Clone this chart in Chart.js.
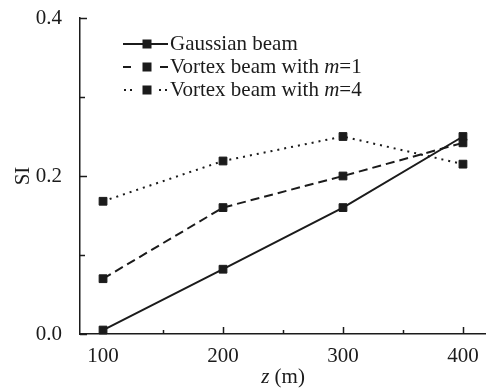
<!DOCTYPE html>
<html><head><meta charset="utf-8">
<script src="https://cdn.jsdelivr.net/npm/chart.js@4"></script>
<style>html,body{margin:0;padding:0;background:#fff}#wrap{width:486px;height:389px;position:relative}</style>
</head><body><div id="wrap"><canvas id="c" width="486" height="389"></canvas></div>
<script>
const zValues = [100, 200, 300, 400];
const gaussian = [0.005, 0.082, 0.160, 0.250];
const vortexM1 = [0.070, 0.160, 0.200, 0.242];
const vortexM4 = [0.168, 0.219, 0.250, 0.215];
const seriesLabels = ['Gaussian beam', 'Vortex beam with m=1', 'Vortex beam with m=4'];
const xTicks = [100, 150, 200, 250, 300, 350, 400];
const xTickLabels = ['100', '', '200', '', '300', '', '400'];
const yTicks = [0, 0.1, 0.2, 0.3, 0.4];
const yTickLabels = ['0.0', '', '0.2', '', '0.4'];
const xTitle = ['z', ' (m)'];
const yTitle = 'SI';

const INK = '#1b1b1b';
const FONT = '"Liberation Serif", "Times New Roman", serif';
const dashes = [[], [9, 5], [2, 5]];

function pts(arr) { return zValues.map((z, i) => ({x: z, y: arr[i]})); }
const seriesData = [gaussian, vortexM1, vortexM4];

const datasets = seriesData.map((arr, i) => ({
  label: seriesLabels[i],
  data: pts(arr),
  borderColor: INK,
  backgroundColor: INK,
  borderWidth: 2,
  borderDash: dashes[i],
  borderCapStyle: 'butt',
  pointStyle: 'rect',
  pointRadius: 5.5,
  pointBorderWidth: 1,
  pointBackgroundColor: INK,
  pointBorderColor: INK,
  tension: 0,
  fill: false,
  clip: false
}));

const decor = {
  id: 'decor',
  afterDraw(chart) {
    const ctx = chart.ctx;
    const xs = chart.scales.x, ys = chart.scales.y;
    const area = chart.chartArea;
    ctx.save();
    ctx.strokeStyle = INK;
    ctx.lineWidth = 1.5;
    // inward ticks
    xTicks.forEach((v, i) => {
      const px = Math.round(xs.getPixelForValue(v)) + 0.5;
      const len = xTickLabels[i] ? 7 : 4;
      ctx.beginPath(); ctx.moveTo(px, area.bottom); ctx.lineTo(px, area.bottom - len); ctx.stroke();
    });
    yTicks.forEach((v, i) => {
      const py = Math.round(ys.getPixelForValue(v)) + 0.5;
      const len = yTickLabels[i] ? 7 : 5;
      ctx.beginPath(); ctx.moveTo(area.left, py); ctx.lineTo(area.left + len, py); ctx.stroke();
    });
    // axis titles
    ctx.fillStyle = INK;
    ctx.textBaseline = 'middle';
    ctx.font = 'italic 21px ' + FONT;
    const w0 = ctx.measureText(xTitle[0]).width;
    ctx.font = '21px ' + FONT;
    const w1 = ctx.measureText(xTitle[1]).width;
    const cx = (area.left + area.right) / 2;
    let sx = cx - (w0 + w1) / 2;
    ctx.textAlign = 'left';
    ctx.font = 'italic 21px ' + FONT;
    ctx.fillText(xTitle[0], sx, 377);
    ctx.font = '21px ' + FONT;
    ctx.fillText(xTitle[1], sx + w0, 377);
    ctx.save();
    ctx.translate(23, 176);
    ctx.rotate(-Math.PI / 2);
    ctx.textAlign = 'center';
    ctx.fillText(yTitle, 0, 0);
    ctx.restore();
    // legend
    const rows = [44, 67, 90];
    chart.data.datasets.forEach((ds, i) => {
      const y = rows[i];
      ctx.lineWidth = 2;
      ctx.setLineDash([]);
      ctx.beginPath();
      if (i === 0) {
        ctx.moveTo(123, y); ctx.lineTo(168, y);
      } else if (i === 1) {
        ctx.moveTo(123, y); ctx.lineTo(131, y);
        ctx.moveTo(160, y); ctx.lineTo(168, y);
      }
      ctx.stroke();
      if (i === 2) {
        [125, 131, 160, 166].forEach(dx => ctx.fillRect(dx - 1, y - 1, 2, 2));
      }
      ctx.fillRect(147 - 4.5, y - 4.5, 9, 9);
      // text with italic m
      const label = ds.label;
      const k = label.indexOf('m=');
      let tx = 170;
      ctx.textAlign = 'left';
      if (k < 0) {
        ctx.font = '21px ' + FONT; ctx.fillText(label, tx, y);
      } else {
        const a = label.slice(0, k), b = 'm', c = label.slice(k + 1);
        ctx.font = '21px ' + FONT; ctx.fillText(a, tx, y); tx += ctx.measureText(a).width;
        ctx.font = 'italic 21px ' + FONT; ctx.fillText(b, tx, y); tx += ctx.measureText(b).width;
        ctx.font = '21px ' + FONT; ctx.fillText(c, tx, y);
      }
    });
    ctx.restore();
  }
};

new Chart(document.getElementById('c'), {
  type: 'line',
  data: { datasets },
  options: {
    responsive: false,
    devicePixelRatio: 1,
    animation: false,
    layout: { autoPadding: false, padding: { top: 18, right: 0, left: 0, bottom: 0 } },
    plugins: { legend: { display: false }, tooltip: { enabled: false } },
    scales: {
      x: {
        type: 'linear', min: 80.8, max: 419.2,
        afterBuildTicks: s => { s.ticks = xTicks.map(v => ({value: v})); },
        afterFit: s => { s.height = 55; s.paddingLeft = 0; s.paddingRight = 0; },
        grid: { display: false, drawTicks: false },
        border: { display: true, color: INK, width: 1.5 },
        ticks: {
          color: INK, padding: 10, maxRotation: 0, autoSkip: false,
          font: { family: FONT, size: 21 },
          callback: (v, i) => xTickLabels[i]
        }
      },
      y: {
        type: 'linear', min: 0, max: 0.4,
        afterBuildTicks: s => { s.ticks = yTicks.map(v => ({value: v})); },
        afterFit: s => { s.width = 80; s.paddingTop = 0; s.paddingBottom = 0; },
        grid: { display: false, drawTicks: false },
        border: { display: true, color: INK, width: 1.5 },
        ticks: {
          color: INK, padding: 18, autoSkip: false,
          font: { family: FONT, size: 21 },
          callback: (v, i) => yTickLabels[i]
        }
      }
    }
  },
  plugins: [decor]
});
</script></body></html>
